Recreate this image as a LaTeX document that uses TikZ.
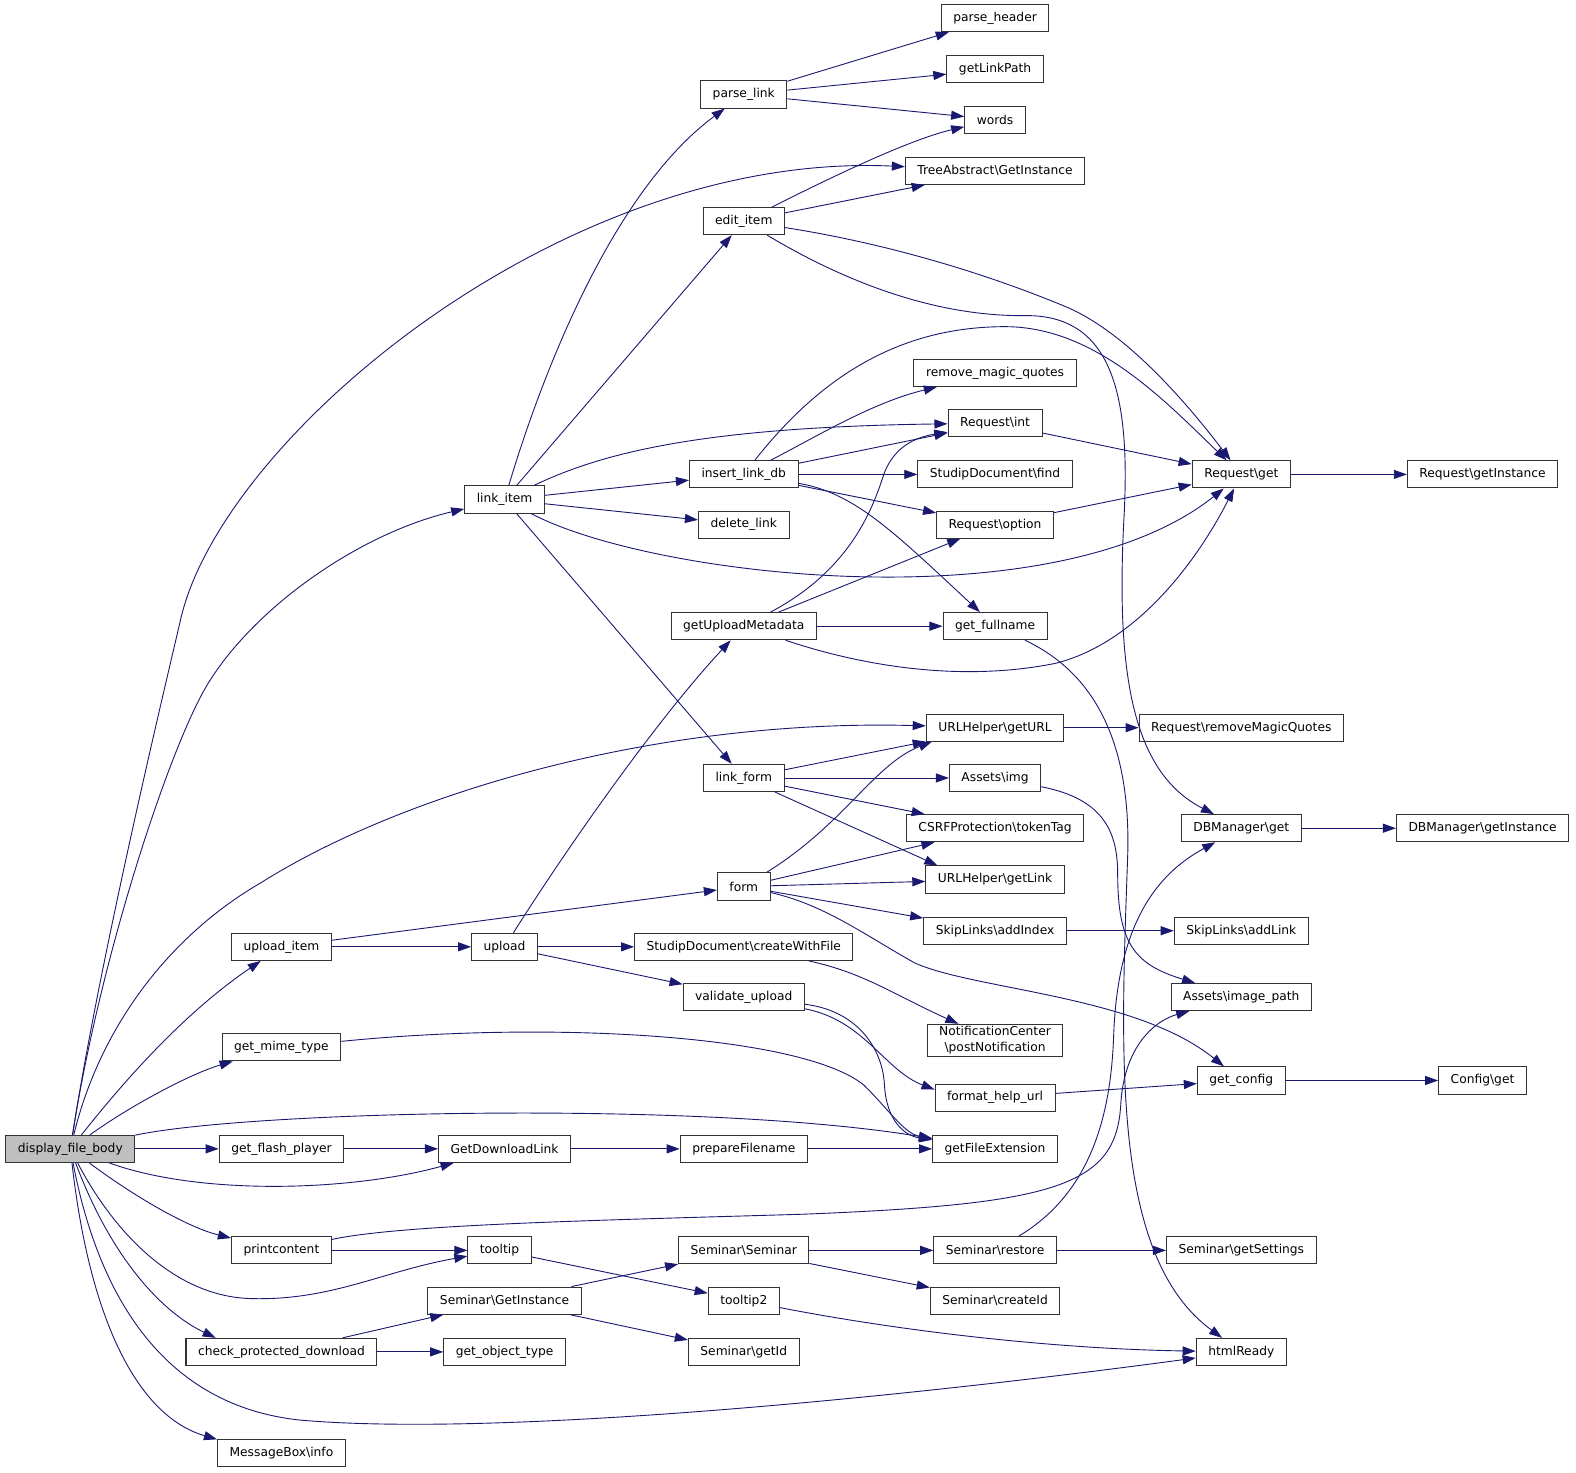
\documentclass[tikz,border=0pt]{standalone}
\usepackage{fontspec}
\setmainfont{DejaVu Sans}
\usepackage{tikz}
\usetikzlibrary{arrows.meta,calc}
\definecolor{edgeblue}{HTML}{191970}
\definecolor{rootgray}{HTML}{BFBFBF}
\newcommand{\nsep}{\textbackslash}
\tikzset{
  fn/.style={draw=black!80, line width=1pt, minimum height=27pt, inner xsep=12pt, inner ysep=2pt,
    font=\fontsize{12.2}{16}\selectfont},
  rootfn/.style={fn, fill=rootgray},
  call/.style={draw=edgeblue, line width=0.9pt, -{Triangle[length=13pt,width=9pt]}},
}
\begin{document}
\begin{tikzpicture}[x=1pt,y=-1pt]
\useasboundingbox (0,0) rectangle (1568,1465);
% column 0 and 1
\node[rootfn] (dfb) at (70,1143) {display\_file\_body};
\node[fn] (uploaditem) at (280,942) {upload\_item};
\node[fn] (mimetype) at (280,1042) {get\_mime\_type};
\node[fn] (flash) at (280,1143) {get\_flash\_player};
\node[fn] (printcontent) at (280,1244) {printcontent};
\node[fn] (checkdl) at (280,1345) {check\_protected\_download};
\node[fn] (msginfo) at (280,1446) {MessageBox\nsep info};
% column 2
\node[fn] (linkitem) at (502,497) {link\_item};
\node[fn] (upload) at (502,942) {upload};
\node[fn] (download) at (502,1143) {GetDownloadLink};
\node[fn] (tooltip) at (497,1244) {tooltip};
\node[fn] (seminargi) at (502,1294) {Seminar\nsep GetInstance};
\node[fn] (objtype) at (502,1345) {get\_object\_type};
% column 3
\node[fn] (parselink) at (740,94) {parse\_link};
\node[fn] (edititem) at (740,220) {edit\_item};
\node[fn] (insertdb) at (740,472) {insert\_link\_db};
\node[fn] (deletelink) at (740,522) {delete\_link};
\node[fn] (uploadmeta) at (740,623) {getUploadMetadata};
\node[fn] (linkform) at (740,774) {link\_form};
\node[fn] (form) at (740,882) {form};
\node[fn] (createfile) at (740,942) {StudipDocument\nsep createWithFile};
\node[fn] (validate) at (740,992) {validate\_upload};
\node[fn] (preparename) at (740,1143) {prepareFilename};
\node[fn] (seminar) at (740,1244) {Seminar\nsep Seminar};
\node[fn] (tooltiptwo) at (740,1294) {tooltip2};
\node[fn] (getid) at (740,1345) {Seminar\nsep getId};
% column 4
\node[fn] (parseheader) at (990,18) {parse\_header};
\node[fn] (getlinkpath) at (990,69) {getLinkPath};
\node[fn] (words) at (990,119) {words};
\node[fn] (treegi) at (990,170) {TreeAbstract\nsep GetInstance};
\node[fn] (rmq) at (990,371) {remove\_magic\_quotes};
\node[fn] (reqint) at (990,421) {Request\nsep int};
\node[fn] (sdfind) at (990,472) {StudipDocument\nsep find};
\node[fn] (reqoption) at (990,522) {Request\nsep option};
\node[fn] (fullname) at (990,623) {get\_fullname};
\node[fn] (geturl) at (990,724) {URLHelper\nsep getURL};
\node[fn] (img) at (990,774) {Assets\nsep img};
\node[fn] (csrf) at (990,824) {CSRFProtection\nsep tokenTag};
\node[fn] (getlink) at (990,875) {URLHelper\nsep getLink};
\node[fn] (addindex) at (990,926) {SkipLinks\nsep addIndex};
\node[fn, align=center] (notify) at (990,1035) {NotificationCenter\\\nsep postNotification};
\node[fn] (helpurl) at (990,1092) {format\_help\_url};
\node[fn] (fileext) at (990,1143) {getFileExtension};
\node[fn] (restore) at (990,1244) {Seminar\nsep restore};
\node[fn] (createid) at (990,1294) {Seminar\nsep createId};
% column 5 and 6
\node[fn] (reqget) at (1235,472) {Request\nsep get};
\node[fn] (removemq) at (1235,724) {Request\nsep removeMagicQuotes};
\node[fn] (dbget) at (1235,824) {DBManager\nsep get};
\node[fn] (addlink) at (1235,926) {SkipLinks\nsep addLink};
\node[fn] (imagepath) at (1235,992) {Assets\nsep image\_path};
\node[fn] (getconfig) at (1235,1075) {get\_config};
\node[fn] (getsettings) at (1235,1244) {Seminar\nsep getSettings};
\node[fn] (htmlready) at (1235,1345) {htmlReady};
\node[fn] (reqinstance) at (1475,472) {Request\nsep getInstance};
\node[fn] (dbinstance) at (1475,824) {DBManager\nsep getInstance};
\node[fn] (configget) at (1475,1075) {Config\nsep get};

% calls of display_file_body
\draw[call] (dfb) .. controls (100,950) and (165,680) .. (180,615) .. controls (222,435) and (560,150) .. (treegi);
\draw[call] (dfb) .. controls (100,950) and (170,740) .. (207,680) .. controls (255,602) and (360,530) .. (linkitem);
\draw[call] (dfb) .. controls (100,1020) and (170,930) .. (260,878) .. controls (400,790) and (650,715) .. (geturl);
\draw[call] (dfb) .. controls (120,1080) and (180,1010) .. (uploaditem);
\draw[call] (dfb) .. controls (130,1100) and (190,1068) .. (mimetype);
\draw[call] (dfb) .. controls (250,1105) and (700,1095) .. (fileext);
\draw[call] (dfb) -- (flash);
\draw[call] (dfb) .. controls (200,1190) and (350,1185) .. (download);
\draw[call] (dfb) .. controls (140,1195) and (190,1222) .. (printcontent);
\draw[call] (dfb) .. controls (110,1220) and (170,1290) .. (250,1292) .. controls (330,1294) and (380,1265) .. (tooltip);
\draw[call] (dfb) .. controls (110,1250) and (160,1305) .. ($(checkdl.north west)+(30,0)$);
\draw[call] (dfb) .. controls (100,1300) and (170,1400) .. (300,1413) .. controls (500,1430) and (900,1390) .. (htmlready);
\draw[call] (dfb) .. controls (90,1320) and (140,1410) .. (msginfo.north west);

% link_item
\draw[call] (linkitem) .. controls (540,370) and (610,190) .. (parselink);
\draw[call] (linkitem) -- (edititem);
\draw[call] (linkitem) .. controls (600,450) and (700,425) .. (reqint);
\draw[call] (linkitem) -- (insertdb);
\draw[call] (linkitem) -- (deletelink);
\draw[call] (linkitem) .. controls (650,575) and (1050,620) .. (reqget);
\draw[call] (linkitem) -- (linkform);

% parse_link, edit_item
\draw[call] (parselink) -- (parseheader);
\draw[call] (parselink) -- (getlinkpath);
\draw[call] (parselink) -- (words);
\draw[call] (edititem) .. controls (810,185) and (900,140) .. (words);
\draw[call] (edititem) -- (treegi);
\draw[call] (edititem) .. controls (900,245) and (1000,280) .. (1060,305) .. controls (1120,330) and (1180,400) .. (reqget);
\draw[call] (edititem) .. controls (840,280) and (930,315) .. (1020,314) .. controls (1110,313) and (1125,400) .. (1118,520) .. controls (1110,680) and (1130,770) .. (dbget);

% insert_link_db, getUploadMetadata
\draw[call] (insertdb) .. controls (820,370) and (900,325) .. (1000,325) .. controls (1090,325) and (1160,400) .. (reqget);
\draw[call] (insertdb) .. controls (820,430) and (870,400) .. (rmq);
\draw[call] (insertdb) -- (reqint);
\draw[call] (insertdb) -- (sdfind);
\draw[call] (insertdb) -- (reqoption);
\draw[call] (insertdb) .. controls (850,490) and (890,530) .. (fullname);
\draw[call] (uploadmeta) .. controls (850,565) and (870,500) .. (880,470) .. controls (890,445) and (910,435) .. ($(reqint.west)+(0,9)$);
\draw[call] (uploadmeta) -- (reqoption);
\draw[call] (uploadmeta) -- (fullname);
\draw[call] (uploadmeta) .. controls (850,660) and (950,680) .. (1050,660) .. controls (1130,640) and (1190,560) .. (reqget);
\draw[call] (reqint) -- (reqget);
\draw[call] (reqoption) -- (reqget);
\draw[call] (reqget) -- (reqinstance);
\draw[call] (fullname) .. controls (1090,670) and (1125,740) .. (1122,850) .. controls (1115,1050) and (1105,1250) .. (htmlready);

% upload_item, upload
\draw[call] (uploaditem) -- (form);
\draw[call] (uploaditem) -- (upload);
\draw[call] (upload) .. controls (560,850) and (650,720) .. (uploadmeta);
\draw[call] (upload) -- (createfile);
\draw[call] (upload) -- (validate);
\draw[call] (createfile) .. controls (860,968) and (890,990) .. (notify);
\draw[call] (validate) .. controls (850,1005) and (878,1040) .. (880,1080) .. controls (882,1115) and (900,1130) .. (fileext);
\draw[call] (validate) .. controls (860,1015) and (880,1065) .. ($(helpurl.west)+(0,-8)$);
\draw[call] (helpurl) -- (getconfig);
\draw[call] (getconfig) -- (configget);

% link_form, form
\draw[call] (linkform) -- (geturl);
\draw[call] (linkform) -- (img);
\draw[call] (linkform) -- (csrf);
\draw[call] (linkform) -- ($(getlink.north west)+(12,0)$);
\draw[call] (form) .. controls (840,820) and (870,760) .. ($(geturl.south west)+(6,0)$);
\draw[call] (form) -- (csrf);
\draw[call] (form) -- (getlink);
\draw[call] (form) -- (addindex);
\draw[call] (form) .. controls (820,900) and (860,930) .. (910,958) .. controls (970,985) and (1130,990) .. (getconfig);
\draw[call] (geturl) -- (removemq);
\draw[call] (addindex) -- (addlink);
\draw[call] (img) .. controls (1100,795) and (1112,830) .. (1112,870) .. controls (1112,940) and (1130,960) .. (imagepath);
\draw[call] (dbget) -- (dbinstance);

% lower rows
\draw[call] (mimetype) .. controls (550,1015) and (800,1030) .. (860,1080) .. controls (885,1105) and (900,1128) .. (fileext);
\draw[call] (flash) -- (download);
\draw[call] (download) -- (preparename);
\draw[call] (preparename) -- (fileext);
\draw[call] (printcontent) -- (tooltip);
\draw[call] (printcontent) .. controls (400,1218) and (600,1214) .. (800,1208) .. controls (1050,1198) and (1110,1180) .. (1115,1100) .. controls (1118,1040) and (1150,1015) .. (imagepath);
\draw[call] (tooltip) -- (tooltiptwo);
\draw[call] (tooltiptwo) .. controls (900,1325) and (1050,1342) .. (htmlready);
\draw[call] (checkdl) -- (seminargi);
\draw[call] (checkdl) -- (objtype);
\draw[call] (seminargi) -- (seminar);
\draw[call] (seminargi) -- (getid);
\draw[call] (seminar) -- (restore);
\draw[call] (seminar) -- (createid);
\draw[call] (restore) -- (getsettings);
\draw[call] (restore) .. controls (1080,1190) and (1105,1120) .. (1108,1030) .. controls (1112,920) and (1150,870) .. (dbget);
\end{tikzpicture}
\end{document}
